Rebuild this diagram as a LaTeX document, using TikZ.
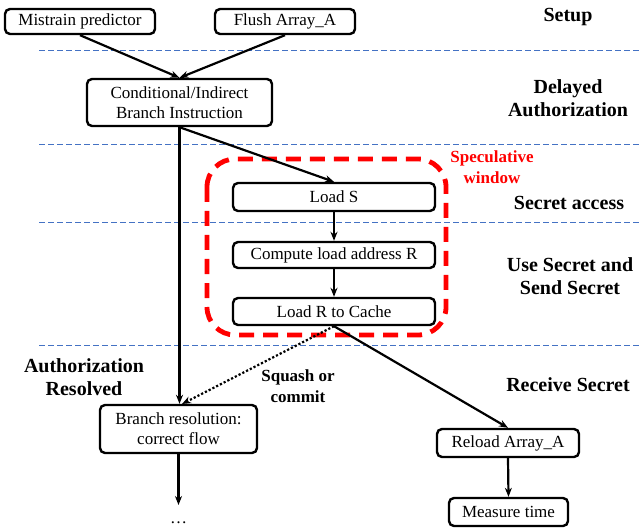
\documentclass[tikz,border=0pt]{standalone}
\usepackage{fontspec}
\setmainfont{Liberation Serif}
\usetikzlibrary{arrows.meta}
\definecolor{sepblue}{RGB}{68,114,196}
\tikzset{
  box/.style={draw, line width=2.4pt, rounded corners=5pt, inner sep=0pt, align=center,
    font=\fontsize{17}{20}\selectfont},
  phase/.style={font=\bfseries\fontsize{20}{23}\selectfont, align=center, inner sep=0pt},
  note/.style={font=\bfseries\fontsize{17}{21}\selectfont, align=center, inner sep=0pt},
  sep/.style={draw=sepblue, line width=0.9pt, dash pattern=on 6pt off 3pt},
  arr/.style={line width=2.2pt, -{Stealth[length=9pt,width=7pt]}},
  spec/.style={draw=red, line width=4.8pt, dash pattern=on 15pt off 9pt, rounded corners=28pt}
}
\begin{document}
\begin{tikzpicture}[x=1pt,y=-1pt]
\useasboundingbox (0,0) rectangle (642,529);
% separators
\coordinate (s1a) at (39,50);  \coordinate (s1b) at (642,50);
\coordinate (s2a) at (39,144); \coordinate (s2b) at (642,144);
\coordinate (s3a) at (39,222); \coordinate (s3b) at (642,222);
\coordinate (s4a) at (39,345); \coordinate (s4b) at (642,345);
\draw[sep] (s1a) -- (s1b);
\draw[sep] (s2a) -- (s2b);
\draw[sep] (s3a) -- (s3b);
\draw[sep] (s4a) -- (s4b);
% speculative window
\coordinate (w1) at (207,159); \coordinate (w2) at (446,335);
\draw[spec] (w1) rectangle (w2);
% boxes
\node[box, minimum width=150pt, minimum height=25pt] (mis) at (80,21.5) {Mistrain predictor};
\node[box, minimum width=140pt, minimum height=25pt] (flush) at (285,21.5) {Flush Array\_A};
\node[box, minimum width=185pt, minimum height=47pt] (cond) at (179.5,102.5) {Conditional/Indirect\\Branch Instruction};
\node[box, minimum width=202pt, minimum height=28pt] (loadS) at (334,197) {Load S};
\node[box, minimum width=202pt, minimum height=26pt] (comp) at (334,255) {Compute load address R};
\node[box, minimum width=202pt, minimum height=27pt] (loadR) at (334,311.5) {Load R to Cache};
\node[box, minimum width=157pt, minimum height=48pt] (branch) at (178.5,429) {Branch resolution:\\correct flow};
\node[box, minimum width=142pt, minimum height=28pt] (reload) at (508,443) {Reload Array\_A};
\node[box, minimum width=119pt, minimum height=28pt] (measure) at (508.5,512) {Measure time};
% labels
\node[phase] (lsetup) at (568,17) {Setup};
\node[phase] (ldelay) at (568,98.5) {Delayed\\Authorization};
\node[phase] (lsecret) at (569,203) {Secret access};
\node[phase] (luse) at (570,276.5) {Use Secret and\\Send Secret};
\node[phase] (lrecv) at (568,385) {Receive Secret};
\node[phase] (lauth) at (84,377) {Authorization\\Resolved};
\node[note, text=red] (lspec) at (492,167.5) {Speculative\\window};
\node[note] (lsq) at (298,386.5) {Squash or\\commit};
\node[font=\fontsize{17}{20}\selectfont, anchor=base, inner sep=0pt] (dots) at (178.5,523) {\ldots};
% connectors
\coordinate (brn) at (182,404);
\coordinate (dend) at (178.5,505);
\draw[arr] (mis.south) -- (cond.north);
\draw[arr] (flush.south) -- (cond.north);
\draw[arr] (cond.south) -- (loadS.north);
\draw[arr] (cond.south) -- (cond.south |- branch.north);
\draw[arr] (loadS.south) -- (comp.north);
\draw[arr] (comp.south) -- (loadR.north);
\draw[line width=2.2pt, dotted, -{Stealth[length=9pt,width=7pt]}] (loadR.south) -- (brn);
\draw[arr] (loadR.south) -- (reload.north);
\draw[arr] (reload.south) -- (measure.north);
\draw[arr] (branch.south) -- (dend);
\end{tikzpicture}
\end{document}
